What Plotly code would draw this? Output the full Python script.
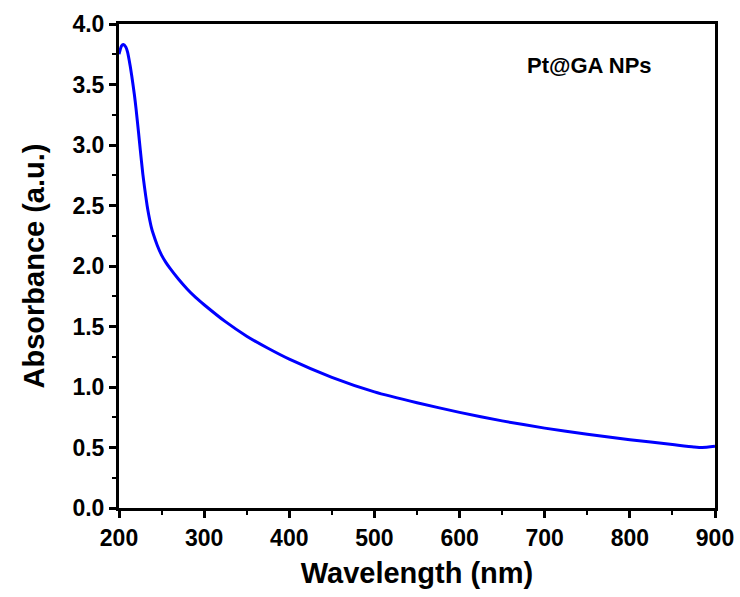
import plotly.graph_objects as go

wavelength = [200, 203, 205, 208, 210, 213, 215, 218, 220, 223, 225, 228, 230, 233, 235, 238, 240, 245, 250, 255,
              260, 270, 280, 290, 300, 325, 350, 375, 400, 450, 500, 550, 600, 650, 700, 750, 800, 850, 875, 885, 900]
absorbance = [3.75, 3.82, 3.83, 3.81, 3.77, 3.66, 3.57, 3.42, 3.30, 3.10, 2.96, 2.76, 2.65, 2.50, 2.42, 2.32, 2.27, 2.17, 2.09, 2.03,
              1.98, 1.89, 1.81, 1.74, 1.68, 1.54, 1.42, 1.32, 1.23, 1.08, 0.96, 0.87, 0.79, 0.72, 0.66, 0.61, 0.565, 0.525, 0.505, 0.50, 0.51]

x_ticks = [200, 300, 400, 500, 600, 700, 800, 900]
y_ticks = [0.0, 0.5, 1.0, 1.5, 2.0, 2.5, 3.0, 3.5, 4.0]

font_family = "Arial, Liberation Sans, sans-serif"

fig = go.Figure()
fig.add_trace(go.Scatter(x=wavelength, y=absorbance, mode="lines",
                         line=dict(color="#0000FF", width=3, shape="spline", smoothing=0.6),
                         showlegend=False))

axis_common = dict(
    showline=True, linecolor="black", linewidth=3, mirror=True,
    ticks="outside", ticklen=7, tickwidth=3, tickcolor="black",
    showgrid=False, zeroline=False, automargin=False,
    tickfont=dict(family=font_family, size=23, color="black", weight="bold"),
    minor=dict(ticks="outside", ticklen=4, tickwidth=2, tickcolor="black", showgrid=False),
)

fig.update_xaxes(range=[200, 900], tickvals=x_ticks, ticktext=[str(v) for v in x_ticks],
                 minor_dtick=50, minor_tick0=200,
                 title=dict(text="Wavelength (nm)", font=dict(family=font_family, size=29, color="black", weight="bold"), standoff=14),
                 **axis_common)
fig.update_yaxes(range=[0, 4.0], tickvals=y_ticks, ticktext=[f"{v:.1f}" for v in y_ticks],
                 minor_dtick=0.25, minor_tick0=0,
                 title=dict(text="Absorbance (a.u.)", font=dict(family=font_family, size=29, color="black", weight="bold"), standoff=20),
                 **axis_common)

fig.add_annotation(text="Pt@GA NPs", xref="paper", yref="paper", x=0.79, y=0.915,
                   showarrow=False, xanchor="center", yanchor="middle",
                   font=dict(family=font_family, size=22, color="black", weight="bold"))

fig.update_layout(width=740, height=597, margin=dict(l=119, r=25, t=24, b=89),
                  plot_bgcolor="white", paper_bgcolor="white")

fig.write_html("out.html")
